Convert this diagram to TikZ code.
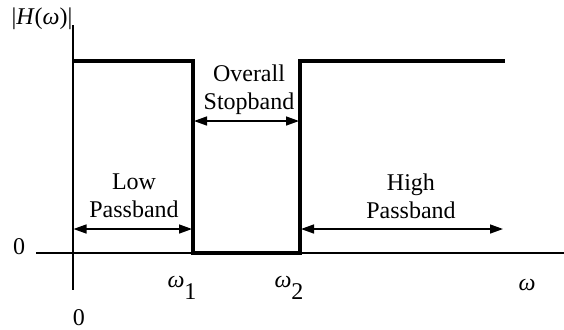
\documentclass[tikz,border=0pt]{standalone}
\usepackage{fontspec}
\setmainfont{Liberation Serif}
\usetikzlibrary{arrows.meta}

\begin{document}
\begin{tikzpicture}[x=0.5pt,y=-0.5pt,
  font=\fontsize{12}{14}\selectfont,
  axis/.style={line width=0.75pt},
  resp/.style={line width=1.6pt, line join=miter},
  band/.style={line width=0.75pt, {Triangle[length=6.5pt,width=4.5pt]}-{Triangle[length=6.5pt,width=4.5pt]}},
  lbl/.style={align=center, inner sep=0pt}]
        \useasboundingbox (0,0) rectangle (564,329);

        % axes
        \coordinate (ytop) at (73,25);
        \coordinate (ybot) at (73,290);
        \coordinate (xleft) at (36,253);
        \coordinate (xright) at (564,253);
        \draw[axis] (ytop) -- (ybot);
        \draw[axis] (xleft) -- (xright);

        % response
        \coordinate (a) at (73,61);
        \coordinate (b) at (193,61);
        \coordinate (w1) at (193,253);
        \coordinate (w2) at (300,253);
        \coordinate (c) at (300,61);
        \coordinate (d) at (505,61);
        \draw[resp] (a) -- (b) -- (w1) -- (w2) -- (c) -- (d);

        % bands
        \coordinate (lowL) at (73.5,229);
        \coordinate (lowR) at (192,229);
        \coordinate (stopL) at (194,121);
        \coordinate (stopR) at (299,121);
        \coordinate (highL) at (301,229);
        \coordinate (highR) at (503,229);
        \draw[band] (lowL) -- (lowR);
        \draw[band] (stopL) -- (stopR);
        \draw[band] (highL) -- (highR);

        \node[lbl] (low) at (134,196) {Low\\Passband};
        \node[lbl] (stop) at (249,90) {Overall\\Stopband};
        \node[lbl] (high) at (411,196) {High\\Passband};

        % labels
        \node[inner sep=0pt] (hw) at (42,19) {|\textit{H}(\textit{ω})|};
        \node[inner sep=0pt] (zy) at (19,247) {0};
        \node[inner sep=0pt] (zx) at (79,318) {0};
        \node[inner sep=0pt] (om1) at (182,288) {\textit{ω}\raisebox{-1.1ex}{1}};
        \node[inner sep=0pt] (om2) at (289,288) {\textit{ω}\raisebox{-1.1ex}{2}};
        \node[inner sep=0pt] (om) at (527,285) {\textit{ω}};
\end{tikzpicture}
\end{document}
